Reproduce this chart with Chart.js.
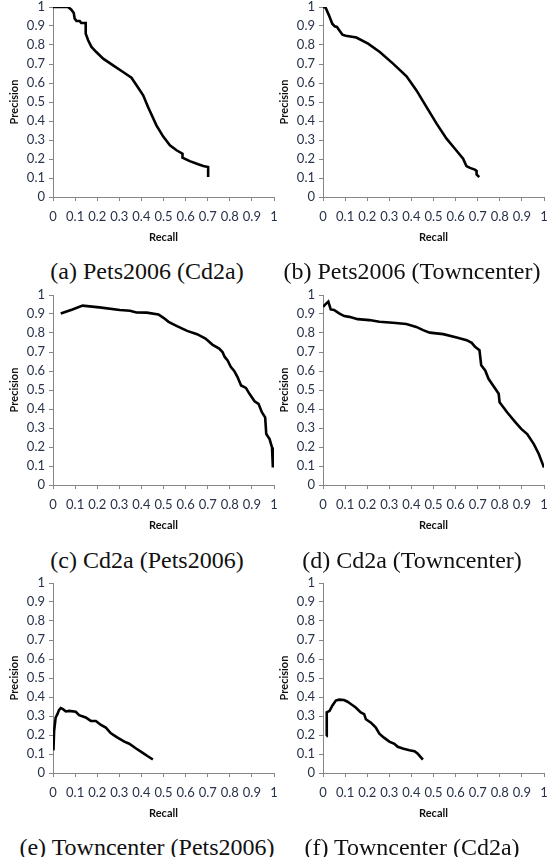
<!DOCTYPE html>
<html>
<head>
<meta charset="utf-8">
<script src="https://cdn.jsdelivr.net/npm/chart.js@4.4.1/dist/chart.umd.min.js"></script>
<style>
  html, body { margin: 0; padding: 0; background: #fff; overflow: hidden; }
  #page { position: relative; width: 547px; height: 857px; }
  .panel { position: absolute; }
  .caption {
    position: absolute; width: 300px; height: 30px; line-height: 30px;
    text-align: center; font-family: "Liberation Serif", "Times New Roman", serif;
    font-size: 24px; color: #111; white-space: nowrap;
  }
</style>
</head>
<body>
<div id="page"></div>
<script>
// tick labels for both axes
const tickValues = [0, 0.1, 0.2, 0.3, 0.4, 0.5, 0.6, 0.7, 0.8, 0.9, 1]

// (a) Pets2006 (Cd2a)
const recallA = [0, 0.068, 0.083, 0.094, 0.098, 0.106, 0.121, 0.128, 0.148, 0.148, 0.159, 0.174, 0.196, 0.227, 0.272, 0.317, 0.355, 0.378, 0.408, 0.43, 0.468, 0.498, 0.529, 0.559, 0.586, 0.586, 0.619, 0.657, 0.68, 0.702, 0.702]
const precisionA = [1, 1, 0.986, 0.968, 0.939, 0.926, 0.926, 0.916, 0.916, 0.86, 0.825, 0.79, 0.763, 0.728, 0.693, 0.658, 0.628, 0.588, 0.535, 0.474, 0.377, 0.319, 0.272, 0.246, 0.228, 0.207, 0.189, 0.172, 0.163, 0.158, 0.105]

// (b) Pets2006 (Towncenter)
const recallB = [0, 0.012, 0.027, 0.042, 0.053, 0.063, 0.076, 0.088, 0.103, 0.151, 0.204, 0.257, 0.317, 0.378, 0.423, 0.468, 0.514, 0.559, 0.597, 0.634, 0.649, 0.665, 0.687, 0.695, 0.695, 0.707]
const precisionB = [1, 0.996, 0.956, 0.912, 0.898, 0.895, 0.874, 0.854, 0.849, 0.839, 0.807, 0.763, 0.702, 0.635, 0.561, 0.474, 0.386, 0.307, 0.254, 0.202, 0.163, 0.153, 0.144, 0.137, 0.119, 0.105]

// (c) Cd2a (Pets2006)
const recallC = [0.035, 0.088, 0.134, 0.21, 0.302, 0.348, 0.378, 0.424, 0.477, 0.5, 0.523, 0.561, 0.607, 0.652, 0.69, 0.721, 0.752, 0.767, 0.777, 0.79, 0.805, 0.82, 0.835, 0.851, 0.873, 0.889, 0.912, 0.93, 0.945, 0.96, 0.965, 0.98, 0.991, 0.995]
const precisionC = [0.903, 0.924, 0.944, 0.935, 0.921, 0.917, 0.908, 0.907, 0.898, 0.88, 0.859, 0.836, 0.811, 0.794, 0.771, 0.739, 0.718, 0.7, 0.674, 0.656, 0.621, 0.6, 0.568, 0.524, 0.511, 0.48, 0.441, 0.427, 0.383, 0.356, 0.268, 0.242, 0.198, 0.092]

// (d) Cd2a (Towncenter)
const recallD = [0, 0.012, 0.024, 0.035, 0.05, 0.073, 0.096, 0.119, 0.157, 0.21, 0.255, 0.316, 0.377, 0.422, 0.453, 0.483, 0.544, 0.605, 0.65, 0.673, 0.688, 0.708, 0.716, 0.734, 0.749, 0.775, 0.795, 0.799, 0.833, 0.871, 0.897, 0.924, 0.954, 0.977, 1.0]
const precisionD = [0.938, 0.952, 0.965, 0.924, 0.921, 0.903, 0.889, 0.885, 0.873, 0.868, 0.859, 0.854, 0.847, 0.832, 0.815, 0.802, 0.794, 0.776, 0.762, 0.748, 0.727, 0.709, 0.63, 0.603, 0.559, 0.515, 0.48, 0.436, 0.383, 0.33, 0.295, 0.268, 0.215, 0.162, 0.092]

// (e) Towncenter (Pets2006)
const recallE = [0.002, 0.005, 0.012, 0.02, 0.027, 0.035, 0.045, 0.058, 0.073, 0.103, 0.118, 0.148, 0.171, 0.194, 0.217, 0.239, 0.262, 0.292, 0.323, 0.345, 0.376, 0.406, 0.429, 0.452]
const precisionE = [0.119, 0.221, 0.292, 0.31, 0.331, 0.342, 0.336, 0.324, 0.327, 0.322, 0.304, 0.292, 0.274, 0.274, 0.253, 0.239, 0.209, 0.186, 0.165, 0.154, 0.129, 0.106, 0.088, 0.071]

// (f) Towncenter (Cd2a)
const recallF = [0.015, 0.017, 0.03, 0.042, 0.058, 0.073, 0.095, 0.111, 0.126, 0.148, 0.171, 0.186, 0.194, 0.217, 0.239, 0.255, 0.276, 0.3, 0.323, 0.338, 0.361, 0.391, 0.414, 0.429, 0.452]
const precisionF = [0.195, 0.319, 0.327, 0.354, 0.381, 0.386, 0.384, 0.375, 0.363, 0.345, 0.319, 0.31, 0.283, 0.265, 0.239, 0.207, 0.186, 0.165, 0.154, 0.138, 0.129, 0.12, 0.115, 0.101, 0.071]

const panels = [
  { caption: '(a) Pets2006 (Cd2a)', recall: recallA, precision: precisionA },
  { caption: '(b) Pets2006 (Towncenter)', recall: recallB, precision: precisionB },
  { caption: '(c) Cd2a (Pets2006)', recall: recallC, precision: precisionC },
  { caption: '(d) Cd2a (Towncenter)', recall: recallD, precision: precisionD },
  { caption: '(e) Towncenter (Pets2006)', recall: recallE, precision: precisionE },
  { caption: '(f) Towncenter (Cd2a)', recall: recallF, precision: precisionF }
]

const axisColor = '#868686'
const tickColor = '#27324a'
const tickFont = { family: 'Lato, "Open Sans", sans-serif', size: 13 }
const titleFont = { family: 'Lato, "Open Sans", sans-serif', size: 11, weight: 'bold' }
const fmt = v => String(Math.round(v * 10) / 10)

const page = document.getElementById('page')

panels.forEach((p, i) => {
  const col = i % 2
  const row = Math.floor(i / 2)
  const left = col === 0 ? 0 : 270
  const width = col === 0 ? 285 : 279
  const top = row * 288

  const wrap = document.createElement('div')
  wrap.className = 'panel'
  wrap.style.left = left + 'px'
  wrap.style.top = top + 'px'
  const canvas = document.createElement('canvas')
  canvas.width = width
  canvas.height = 252
  canvas.style.width = width + 'px'
  canvas.style.height = '252px'
  wrap.appendChild(canvas)
  page.appendChild(wrap)

  const cap = document.createElement('div')
  cap.className = 'caption'
  cap.textContent = p.caption
  const capCenter = col === 0 ? 147 : 412
  const capY = [271, 560, 847][row]
  cap.style.left = (capCenter - 150) + 'px'
  cap.style.top = (capY - 15) + 'px'
  page.appendChild(cap)

  new Chart(canvas.getContext('2d'), {
    type: 'scatter',
    data: {
      datasets: [{
        data: p.recall.map((r, k) => ({ x: r, y: p.precision[k] })),
        showLine: true,
        borderColor: '#000',
        borderWidth: 2.6,
        pointRadius: 0,
        tension: 0,
        fill: false
      }]
    },
    options: {
      responsive: false,
      animation: false,
      devicePixelRatio: 1,
      layout: { padding: { top: 7, left: 0, right: width - 274, bottom: 0 } },
      plugins: { legend: { display: false }, tooltip: { enabled: false } },
      scales: {
        x: {
          type: 'linear', min: 0, max: 1,
          afterBuildTicks: s => { s.ticks = tickValues.map(v => ({ value: v })) },
          afterFit: s => { s.height = 55; s.paddingLeft = 0; s.paddingRight = 0 },
          grid: { drawOnChartArea: false, drawTicks: true, tickLength: 4, color: axisColor },
          border: { color: axisColor, width: 1 },
          ticks: { autoSkip: false, maxRotation: 0, padding: 8, color: tickColor, font: tickFont, callback: fmt },
          title: { display: true, text: 'Recall', color: '#111', font: titleFont, padding: { top: 0, bottom: 8 } }
        },
        y: {
          type: 'linear', min: 0, max: 1,
          afterBuildTicks: s => { s.ticks = tickValues.map(v => ({ value: v })) },
          afterFit: s => { s.width = 53; s.paddingTop = 0; s.paddingBottom = 0 },
          grid: { drawOnChartArea: false, drawTicks: true, tickLength: 4, color: axisColor },
          border: { color: axisColor, width: 1 },
          ticks: { autoSkip: false, padding: 4, color: tickColor, font: tickFont, callback: fmt },
          title: { display: true, text: 'Precision', color: '#111', font: titleFont, padding: { top: 8, bottom: 0 } }
        }
      }
    }
  })
})
</script>
</body>
</html>
